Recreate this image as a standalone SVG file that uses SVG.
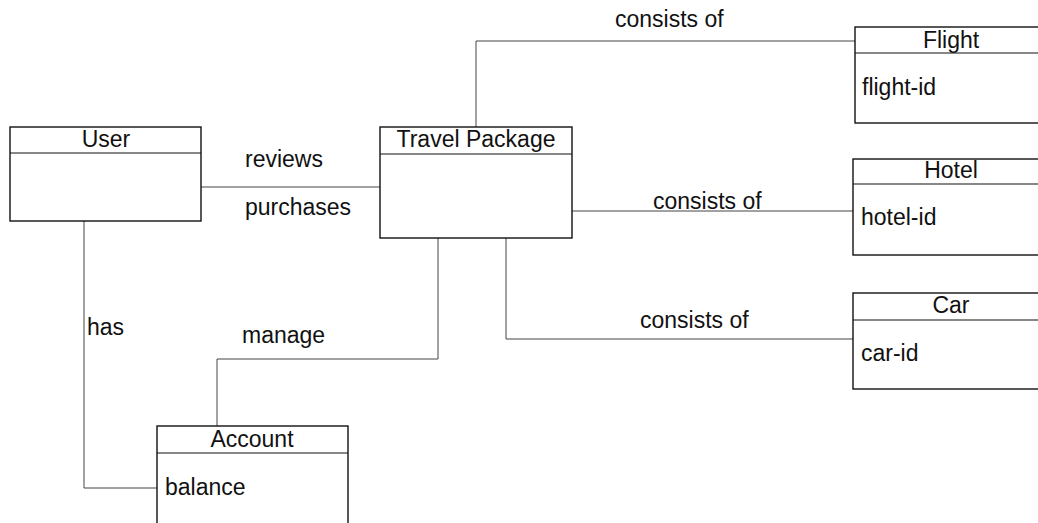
<svg xmlns="http://www.w3.org/2000/svg" width="1038" height="523" viewBox="0 0 1038 523">
  <style>
    text { font-family: "Liberation Sans", Arial, sans-serif; font-size: 23px; fill: #111; }
    .box { fill: #fff; stroke: #111; stroke-width: 1.4; }
    .div { stroke: #111; stroke-width: 1.2; }
    .title { text-anchor: middle; }
    .conn { fill: none; stroke: #444; stroke-width: 1; }
  </style>
  <rect width="1038" height="523" fill="#fff"/>

  <!-- connectors -->
  <g id="connectors">
    <path class="conn" d="M201,187 H380"/>
    <path class="conn" d="M476,127 V41 H855"/>
    <path class="conn" d="M572,211 H853"/>
    <path class="conn" d="M506,238 V339 H853"/>
    <path class="conn" d="M438,238 V359 H217 V426"/>
    <path class="conn" d="M84,221 V488 H157"/>
    <text x="245" y="167">reviews</text>
    <text x="245" y="215">purchases</text>
    <text x="615" y="27">consists of</text>
    <text x="653" y="209">consists of</text>
    <text x="640" y="328">consists of</text>
    <text x="87" y="335">has</text>
    <text x="242" y="343">manage</text>
  </g>

  <g id="user">
    <rect class="box" x="10" y="127" width="191" height="94"/>
    <line class="div" x1="10" y1="153" x2="201" y2="153"/>
    <text class="title" x="106" y="147">User</text>
  </g>

  <g id="travel-package">
    <rect class="box" x="380" y="127" width="192" height="111"/>
    <line class="div" x1="380" y1="154" x2="572" y2="154"/>
    <text class="title" x="476" y="147">Travel Package</text>
  </g>

  <g id="flight">
    <rect class="box" x="855" y="27" width="200" height="96"/>
    <line class="div" x1="855" y1="53" x2="1055" y2="53"/>
    <text class="title" x="951" y="48">Flight</text>
    <text x="862" y="95">flight-id</text>
  </g>

  <g id="hotel">
    <rect class="box" x="853" y="159" width="200" height="96"/>
    <line class="div" x1="853" y1="184" x2="1053" y2="184"/>
    <text class="title" x="951" y="178">Hotel</text>
    <text x="861" y="225">hotel-id</text>
  </g>

  <g id="car">
    <rect class="box" x="853" y="293" width="200" height="96"/>
    <line class="div" x1="853" y1="320" x2="1053" y2="320"/>
    <text class="title" x="951" y="313">Car</text>
    <text x="861" y="361">car-id</text>
  </g>

  <g id="account">
    <rect class="box" x="157" y="426" width="191" height="110"/>
    <line class="div" x1="157" y1="453" x2="348" y2="453"/>
    <text class="title" x="252" y="447">Account</text>
    <text x="165" y="495">balance</text>
  </g>
</svg>
